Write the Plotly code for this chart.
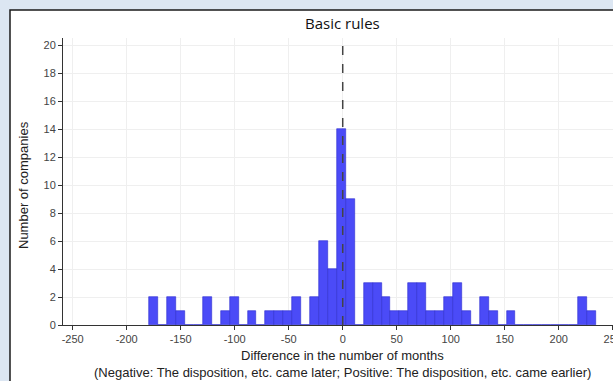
import plotly.graph_objects as go

# ---- data ----
bin_start = -179.1          # left edge of first bin (months)
bin_width = 8.27            # bin width (months)
counts = [2, 0, 2, 1, 0, 0, 2, 0, 1, 2,
          0, 1, 0, 1, 1, 1, 2, 0, 2, 6,
          4, 14, 9, 0, 3, 3, 2, 1, 1, 3,
          3, 1, 1, 2, 3, 1, 0, 2, 1, 0,
          1, 0, 0, 0, 0, 0, 0, 0, 2, 1]
x_ticks = [-250, -200, -150, -100, -50, 0, 50, 100, 150, 200, 250]
x_tick_labels = ["-250", "-200", "-150", "-100", "-50", "0", "50", "100", "150", "200", "250"]
y_ticks = [0, 2, 4, 6, 8, 10, 12, 14, 16, 18, 20]
title_text = "Basic rules"
x_title = "Difference in the number of months"
x_subtitle = "(Negative: The disposition, etc. came later; Positive: The disposition, etc. came earlier)"
y_title = "Number of companies"

centers = [bin_start + bin_width * (k + 0.5) for k in range(len(counts))]

W, H = 613, 381
ML, MR, MT, MB = 63, 0, 38, 56
PW = W - ML - MR
PH = H - MT - MB


def px(xp):
    return (xp - ML) / PW


def py(yp):
    return (H - MB - yp) / PH


fig = go.Figure()
fig.add_trace(go.Bar(
    x=centers, y=counts, width=[bin_width] * len(counts),
    marker=dict(color="#4b4bf7", line=dict(color="#2b2bd0", width=0.6)),
    hoverinfo="x+y", showlegend=False,
))

axis_font = dict(family="Liberation Sans, Arial, sans-serif", size=11, color="#444")
text_font = "Liberation Sans, Arial, sans-serif"

fig.update_layout(
    width=W, height=H,
    margin=dict(l=ML, r=MR, t=MT, b=MB, autoexpand=False),
    paper_bgcolor="#dce6f2",
    plot_bgcolor="rgba(0,0,0,0)",
    bargap=0,
    xaxis=dict(
        range=[-259, -259 + PW / 1.08], tickvals=x_ticks, ticktext=x_tick_labels,
        showgrid=True, gridcolor="#efefef", gridwidth=1, zeroline=False,
        showline=True, linecolor="#333", linewidth=1,
        ticks="outside", ticklen=4, tickcolor="#333", tickfont=axis_font,
        ticklabeloverflow="allow", automargin=False,
    ),
    yaxis=dict(
        range=[0, PH / 14.0], tickvals=y_ticks,
        showgrid=True, gridcolor="#efefef", gridwidth=1, zeroline=False,
        showline=True, linecolor="#333", linewidth=1,
        ticks="outside", ticklen=4, tickcolor="#333", tickfont=axis_font,
        automargin=False,
    ),
    shapes=[
        dict(type="rect", xref="paper", yref="paper", layer="below",
             x0=px(10), x1=px(W + 20), y0=py(H + 20), y1=py(10),
             fillcolor="white", line=dict(color="#1a1a1a", width=1.5)),
        dict(type="line", xref="x", yref="paper", x0=0, x1=0, y0=0, y1=1,
             line=dict(color="#444", width=1.5, dash="dash")),
    ],
    annotations=[
        dict(text=title_text, xref="paper", yref="paper", x=px(343), y=py(23),
             showarrow=False, xanchor="center", yanchor="middle",
             font=dict(family="Open Sans, sans-serif", size=15, color="#111")),
        dict(text=x_title, xref="paper", yref="paper", x=px(342), y=py(355),
             showarrow=False, xanchor="center", yanchor="middle",
             font=dict(family=text_font, size=13, color="#222")),
        dict(text=x_subtitle, xref="paper", yref="paper", x=px(342), y=py(372),
             showarrow=False, xanchor="center", yanchor="middle",
             font=dict(family=text_font, size=13, color="#222")),
        dict(text=y_title, xref="paper", yref="paper", x=px(23), y=py(185),
             showarrow=False, xanchor="center", yanchor="middle", textangle=-90,
             font=dict(family=text_font, size=13, color="#222")),
    ],
)

fig.write_html("out.html")
